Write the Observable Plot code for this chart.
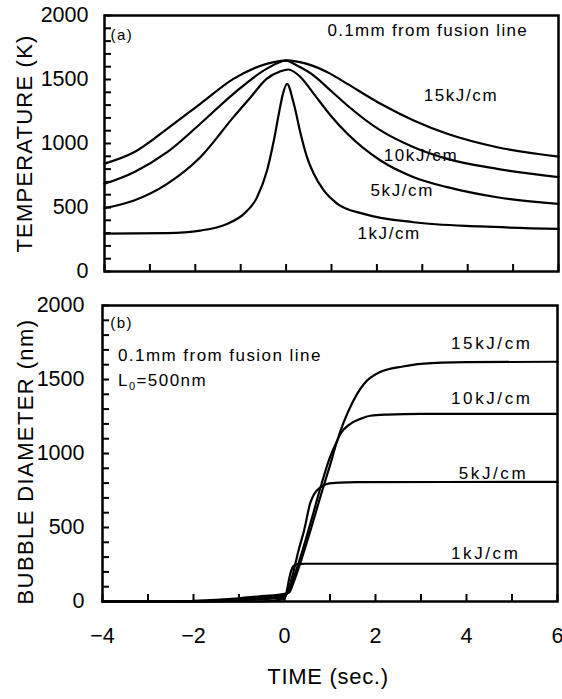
<!DOCTYPE html>
<html><head><meta charset="utf-8">
<script src="https://cdn.jsdelivr.net/npm/d3@7"></script>
<script src="https://cdn.jsdelivr.net/npm/@observablehq/plot@0.6"></script>
<style>
html,body{margin:0;padding:0;background:#fff;}
#chart{width:562px;height:699px;overflow:hidden;}
#chart svg{display:block;}
</style></head><body><div id="chart"></div>
<script>
// ---------- data ----------
const seriesNames = ["1kJ/cm", "5kJ/cm", "10kJ/cm", "15kJ/cm"];

// (a) temperature [time (s), K]
const temp1kJ = [[-4,296],[-2.62,300],[-1.89,320],[-1.3,372],[-0.93,450],[-0.64,580],[-0.42,789],[-0.27,1023],[-0.16,1232],[-0.07,1388],[0.02,1466],[0.17,1310],[0.32,1076],[0.46,893],[0.61,763],[0.83,633],[1.13,529],[1.71,450],[2.81,385],[4.28,352],[6,333]];
const temp5kJ = [[-4,495],[-3.35,555],[-2.62,685],[-1.89,893],[-1.16,1206],[-0.78,1362],[-0.43,1505],[-0.12,1565],[0.05,1578],[0.32,1518],[0.61,1388],[0.98,1219],[1.35,1076],[2.08,867],[2.81,737],[3.55,659],[4.65,580],[6,529]];
const temp10kJ = [[-4,685],[-3.35,776],[-2.62,932],[-1.89,1154],[-1.16,1388],[-0.43,1583],[0,1648],[0.24,1609],[0.61,1531],[0.98,1414],[1.35,1297],[2.08,1102],[2.81,971],[3.55,880],[4.65,802],[6,737]];
const temp15kJ = [[-4,843],[-3.35,932],[-2.62,1115],[-1.89,1310],[-1.16,1505],[-0.43,1622],[0.02,1650],[0.46,1622],[0.98,1544],[1.35,1466],[2.08,1310],[2.81,1180],[3.55,1076],[4.65,971],[6,898]];

// (b) bubble diameter [time (s), nm]
const bub1kJ = [[-4,0],[-0.5,0],[0,18],[0.05,70],[0.1,150],[0.15,210],[0.2,240],[0.3,252],[0.45,255],[6,255]];
const bub5kJ = [[-4,0],[-1.5,0],[-1,8],[0,30],[0.1,100],[0.2,205],[0.3,335],[0.43,480],[0.57,670],[0.66,730],[0.79,772],[0.94,795],[1.2,803],[1.6,806],[6,808]];
const bub10kJ = [[-4,0],[-2,0],[-1,15],[-0.5,27],[0,40],[0.1,75],[0.2,160],[0.4,350],[0.6,560],[0.8,780],[1.0,975],[1.16,1088],[1.23,1133],[1.45,1200],[1.67,1234],[1.89,1255],[2.26,1263],[3,1268],[6,1268]];
const bub15kJ = [[-4,0],[-2.5,0],[-2,4],[-1,22],[-0.5,36],[0,52],[0.1,60],[0.2,130],[0.4,310],[0.6,510],[0.8,720],[1.0,920],[1.16,1088],[1.3,1210],[1.48,1336],[1.75,1471],[2.1,1550],[2.6,1588],[3.0,1606],[4,1617],[6,1620]];

const xTicks = [-4,-3,-2,-1,0,1,2,3,4,5,6];
const xTickLabels = [-4,-2,0,2,4,6];
const yMinorTicks = d3.range(0, 2001, 100);
const yTickLabels = [0, 500, 1000, 1500, 2000];

const titleA = "TEMPERATURE (K)";
const titleB = "BUBBLE DIAMETER (nm)";
const titleX = "TIME (sec.)";
const noteText = "0.1mm from fusion line";
const noteL0 = "L0=500nm";

// annotation anchors (data coords)
const labelsA = [
  {text: "(a)", t: -3.87, v: 1844, kind: "tag"},
  {text: noteText, t: 0.91, v: 1883, kind: "note"},
  {text: "15kJ/cm", t: 3.03, v: 1375, kind: "kj"},
  {text: "10kJ/cm", t: 2.15, v: 906, kind: "kj"},
  {text: "5kJ/cm", t: 1.86, v: 633, kind: "kj"},
  {text: "1kJ/cm", t: 1.57, v: 297, kind: "kj"}
];
const labelsB = [
  {text: "(b)", t: -3.83, v: 1878, kind: "tag"},
  {text: noteText, t: -3.66, v: 1662, kind: "note"},
  {text: noteL0, t: -3.66, v: 1493, kind: "note"},
  {text: "15kJ/cm", t: 3.66, v: 1743, kind: "kj"},
  {text: "10kJ/cm", t: 3.66, v: 1372, kind: "kj"},
  {text: "5kJ/cm", t: 3.83, v: 865, kind: "kj"},
  {text: "1kJ/cm", t: 3.66, v: 324, kind: "kj"}
];

// ---------- build tables ----------
const toRows = (arrs) => arrs.flatMap((arr, i) => arr.map(([t, v]) => ({series: seriesNames[i], t, v})));
const tempRows = toRows([temp1kJ, temp5kJ, temp10kJ, temp15kJ]);
const bubRows = toRows([bub1kJ, bub5kJ, bub10kJ, bub15kJ]);

const fontFamily = "'Liberation Sans', Arial, Helvetica, sans-serif";
const fmt = d => d < 0 ? "\u2212" + (-d) : String(d);

function panel({rows, labels, height, marginTop, marginBottom, marginLeft, marginRight, title, titleDx, titleDy, titlePad, withX}) {
  const marks = [
    Plot.axisX({ticks: xTicks, tickSize: -7, tickFormat: () => "", label: null, strokeWidth: 2}),
    Plot.axisY({ticks: yMinorTicks, tickSize: -7, tickFormat: () => "", label: null, strokeWidth: 2}),
    Plot.axisY({ticks: yTickLabels, tickSize: 0, tickPadding: titlePad, fontSize: 21.5, label: null, tickFormat: fmt}),
    Plot.line(rows, {x: "t", y: "v", z: "series", stroke: "#000", strokeWidth: 2.2, curve: "monotone-x"}),
    Plot.frame({stroke: "#000", strokeWidth: 2.5}),
    Plot.text(labels.filter(d => d.kind !== "tag"), {x: "t", y: "v", text: "text", textAnchor: "start", fontSize: 17, fill: "#000"}),
    Plot.text(labels.filter(d => d.kind === "tag"), {x: "t", y: "v", text: "text", textAnchor: "start", fontSize: 15, fill: "#000"}),
    Plot.text([title], {frameAnchor: "left", textAnchor: "middle", lineAnchor: "middle", rotate: -90, dx: titleDx, dy: titleDy, text: d => d, fontSize: 22, fill: "#000"})
  ];
  if (withX) {
    marks.push(Plot.axisX({ticks: xTickLabels, tickSize: 0, tickPadding: 26, fontSize: 21.5, label: null, tickFormat: fmt}));
    marks.push(Plot.text([titleX], {frameAnchor: "bottom", textAnchor: "middle", dy: 82, dx: -2, text: d => d, fontSize: 22, fill: "#000"}));
  }
  return Plot.plot({
    width: 562, height, marginTop, marginBottom, marginLeft, marginRight,
    style: {fontFamily, background: "#fff", color: "#000"},
    x: {domain: [-4, 6]},
    y: {domain: [0, 2000]},
    marks
  });
}

const svgA = panel({rows: tempRows, labels: labelsA, height: 290, marginTop: 15, marginBottom: 19, marginLeft: 104, marginRight: 4, title: titleA, titleDx: -80, titleDy: 0, titlePad: 16, withX: false});
const svgB = panel({rows: bubRows, labels: labelsB, height: 409, marginTop: 15, marginBottom: 98, marginLeft: 102, marginRight: 5, title: titleB, titleDx: -77, titleDy: 8, titlePad: 18, withX: true});

const chart = document.getElementById("chart");
chart.appendChild(svgA);
chart.appendChild(svgB);

// letter spacing by text content (the original typesetting is wide)
function styleTexts(svg, spacingFor) {
  svg.querySelectorAll("text").forEach(t => {
    const s = t.textContent.trim();
    const ls = spacingFor(s);
    if (ls != null) t.setAttribute("letter-spacing", ls);
  });
}
const kjSet = new Set(seriesNames);
styleTexts(svgA, s => kjSet.has(s) ? 1.6 : s === noteText ? 1.3 : s === "(a)" ? 1.5 : s === titleA ? 1.2 : null);
styleTexts(svgB, s => kjSet.has(s) ? 2.6 : (s === noteText || s === noteL0) ? 1.45 : s === "(b)" ? 1.5 : s === titleB ? 1.4 : s === titleX ? 0.7 : null);

// subscript for L0
svgB.querySelectorAll("text").forEach(t => {
  if (t.textContent.trim() === noteL0) {
    const ns = "http://www.w3.org/2000/svg";
    while (t.firstChild) t.removeChild(t.firstChild);
    const a = document.createElementNS(ns, "tspan"); a.textContent = "L";
    const b = document.createElementNS(ns, "tspan"); b.textContent = "0"; b.setAttribute("font-size", "11"); b.setAttribute("dy", "4");
    const c = document.createElementNS(ns, "tspan"); c.textContent = "=500nm"; c.setAttribute("dy", "-4");
    t.appendChild(a); t.appendChild(b); t.appendChild(c);
  }
});
</script></body></html>
